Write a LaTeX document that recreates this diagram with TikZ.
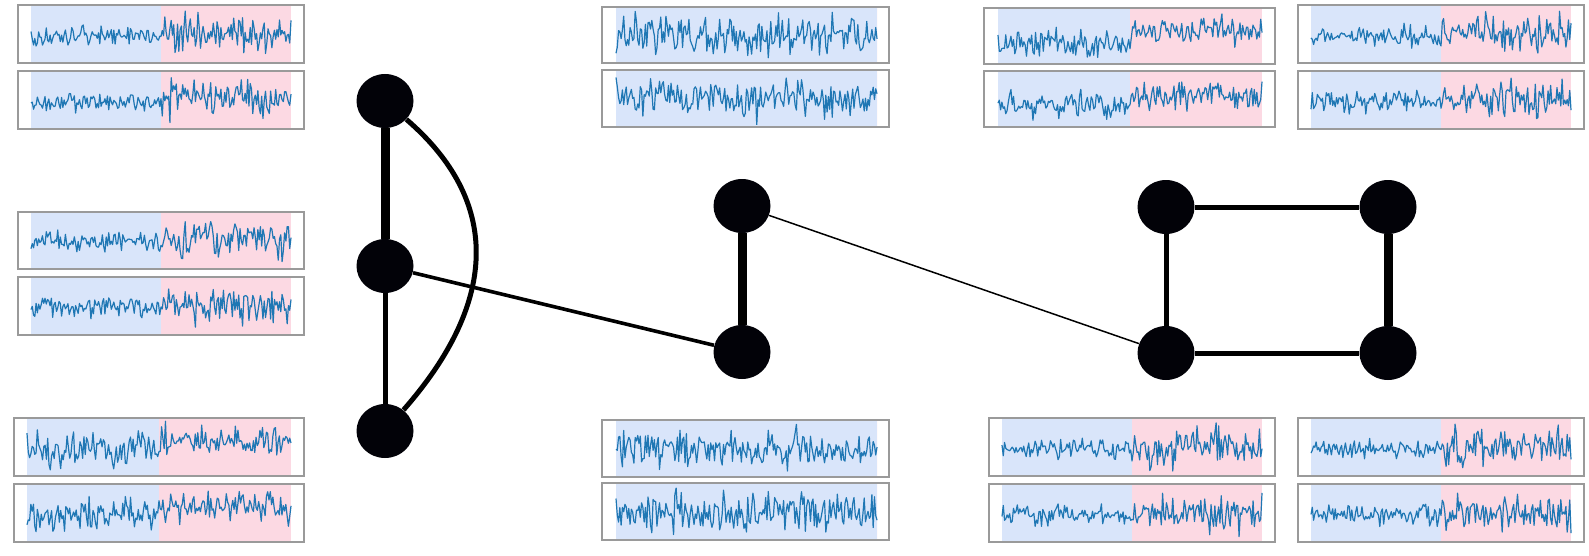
\documentclass[tikz,border=0pt]{standalone}
\usetikzlibrary{shapes.geometric}
\definecolor{bgblue}{HTML}{D9E5FA}
\definecolor{bgpink}{HTML}{FCD9E3}
\definecolor{tracecol}{HTML}{1F77B4}
\definecolor{framecol}{HTML}{9A9A9A}
\definecolor{vertcol}{HTML}{020208}
% #1 x0, #2 y0, #3 x1, #4 y1, #5 blue start, #6 split, #7 pink end, #8 seed
\newcommand\wavepanel[8]{%
  \fill[bgblue] (#5,#2) rectangle (#6,#4);
  \fill[bgpink] (#6,#2) rectangle (#7,#4);
  \pgfmathsetseed{#8}
  \begin{scope}
  \clip (#1,#2+2) rectangle (#3,#4-2);
  \draw[tracepen] plot[domain=#5:#7, samples=205]
    (\x, {(#2+#4)/2 + ((\x<#6) ? (\offA+\ampA*(rand+rand+rand)/1.5) : (\offB+\ampB*(rand+rand+rand)/1.5))});
  \end{scope}
  \draw[framepen] (#1,#2) rectangle (#3,#4);
}
\begin{document}
\begin{tikzpicture}[x=0.5pt,y=-0.5pt,
  tracepen/.style={draw=tracecol, line width=0.6pt, line join=round},
  framepen/.style={draw=framecol, line width=0.65pt},
  vertex/.style={ellipse, fill=vertcol, draw=none, minimum width=28.5pt, minimum height=27pt, inner sep=0pt},
  thick edge/.style={line width=4.5pt, draw=black},
  mid edge/.style={line width=2.5pt, draw=black},
  med edge/.style={line width=1.8pt, draw=black},
  thin edge/.style={line width=0.75pt, draw=black}]
\useasboundingbox (0,0) rectangle (1589,556);
\fill[white] (0,0) rectangle (1589,556);

% left column panels
\def\ampA{7.5}\def\ampB{13.5}\def\offA{2}\def\offB{-1}
\wavepanel{18}{5}{304}{63}{31}{161}{291}{11}
\wavepanel{18}{71}{304}{129}{31}{161}{291}{12}
\wavepanel{18}{212}{304}{269}{31}{161}{291}{13}
\wavepanel{18}{277}{304}{335}{31}{161}{291}{14}
\def\ampA{12.5}\def\ampB{11.5}\def\offA{2}\def\offB{-6}
\wavepanel{14}{418}{304}{476}{27}{159}{291}{15}
\wavepanel{14}{484}{304}{542}{27}{159}{291}{16}

% middle panels (all blue)
\def\ampA{14}\def\ampB{14}\def\offA{0}\def\offB{0}
\wavepanel{602}{7}{889}{63}{616}{877}{877}{21}
\wavepanel{602}{70}{889}{127}{616}{877}{877}{22}
\wavepanel{602}{420}{889}{477}{616}{877}{877}{23}
\wavepanel{602}{483}{889}{540}{616}{877}{877}{24}

% right-center top
\def\ampA{10}\def\ampB{10}\def\offA{7}\def\offB{-6}
\wavepanel{984}{8}{1275}{64}{998}{1130}{1262}{31}
\def\offA{5}\def\offB{-4}
\wavepanel{984}{71}{1275}{127}{998}{1130}{1262}{32}

% far right top
\def\ampA{7.5}\def\ampB{13.5}\def\offA{2}\def\offB{-1}
\wavepanel{1298}{5}{1584}{63}{1311}{1441}{1571}{41}
\wavepanel{1298}{71}{1584}{129}{1311}{1441}{1571}{42}

% bottom right panels
\def\ampA{7.5}\def\ampB{13.5}\def\offA{2}\def\offB{0}
\wavepanel{989}{418}{1275}{476}{1002}{1132}{1262}{51}
\wavepanel{989}{484}{1275}{542}{1002}{1132}{1262}{52}
\wavepanel{1298}{418}{1584}{476}{1311}{1441}{1571}{53}
\wavepanel{1298}{484}{1584}{542}{1311}{1441}{1571}{54}

% graph nodes
\node[vertex] (L1) at (385,101) {};
\node[vertex] (L2) at (385,266) {};
\node[vertex] (L3) at (385,431) {};
\node[vertex] (M1) at (742,206) {};
\node[vertex] (M2) at (742,352) {};
\node[vertex] (R1) at (1166,207) {};
\node[vertex] (R2) at (1388,207) {};
\node[vertex] (R3) at (1166,353) {};
\node[vertex] (R4) at (1388,353) {};

% edges
\draw[thick edge] (L1) -- (L2);
\draw[mid edge] (L2) -- (L3);
\draw[mid edge] (L1) .. controls (500,200) and (500,300) .. (L3);
\draw[med edge] (L2) -- (M2);
\draw[thick edge] (M1) -- (M2);
\draw[thin edge] (M1) -- (R3);
\draw[mid edge] (R1) -- (R2);
\draw[mid edge] (R1) -- (R3);
\draw[mid edge] (R3) -- (R4);
\draw[thick edge] (R2) -- (R4);
\end{tikzpicture}
\end{document}
